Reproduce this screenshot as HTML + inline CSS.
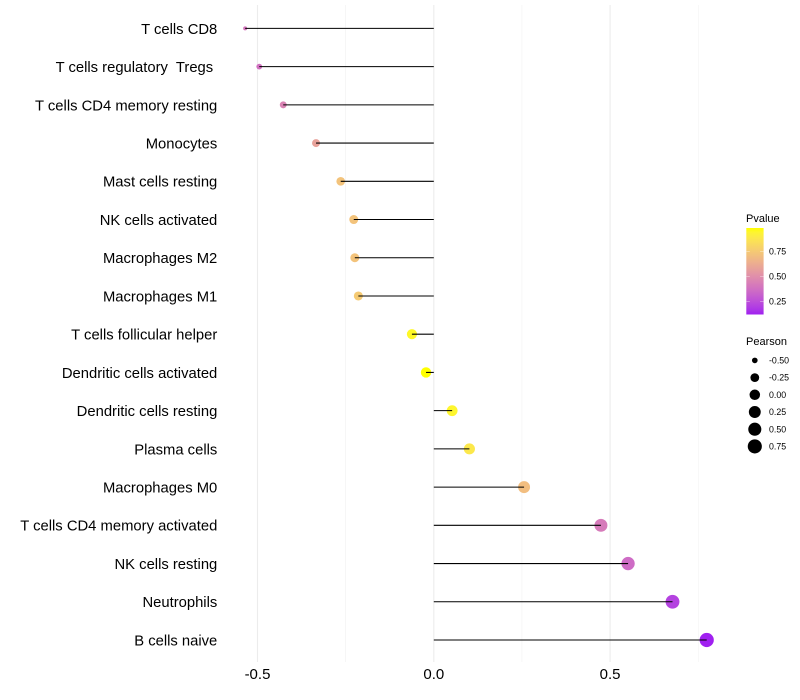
<!DOCTYPE html>
<html>
<head>
<meta charset="utf-8">
<title>Immune cell correlation lollipop chart</title>
<style>
html,body{margin:0;padding:0;background:#fff;}
svg{display:block;font-family:"Liberation Sans",Arial,sans-serif;}
</style>
</head>
<body>
<svg id="chart" width="800" height="700" viewBox="0 0 800 700" xmlns="http://www.w3.org/2000/svg"></svg>
<script>
const categories = ["T cells CD8","T cells regulatory  Tregs ","T cells CD4 memory resting","Monocytes","Mast cells resting","NK cells activated","Macrophages M2","Macrophages M1","T cells follicular helper","Dendritic cells activated","Dendritic cells resting","Plasma cells","Macrophages M0","T cells CD4 memory activated","NK cells resting","Neutrophils","B cells naive"];
const pearsonValues = [-0.535,-0.495,-0.427,-0.334,-0.264,-0.227,-0.224,-0.214,-0.062,-0.022,0.052,0.101,0.256,0.474,0.551,0.677,0.774];
const pvalueValues = [0.40,0.38,0.45,0.58,0.72,0.72,0.72,0.75,0.95,0.98,0.94,0.88,0.70,0.42,0.36,0.21,0.12];
const xMajorTicks = [-0.5,0,0.5];
const xTickLabels = ["-0.5","0.0","0.5"];
const xMinorTicks = [-0.25,0.25,0.75];
const pvalueLegendTicks = [0.25,0.5,0.75];
const pvalueLegendLabels = ["0.25","0.50","0.75"];
const pearsonLegendTicks = [-0.5,-0.25,0,0.25,0.5,0.75];
const pearsonLegendLabels = ["-0.50","-0.25","0.00","0.25","0.50","0.75"];

const svg = document.getElementById('chart');
const NS = 'http://www.w3.org/2000/svg';
function make(tag, attrs, parent, text) {
  const el = document.createElementNS(NS, tag);
  for (const k in attrs) el.setAttribute(k, attrs[k]);
  if (text !== undefined) {
    el.textContent = text;
    el.setAttribute('xml:space', 'preserve');
    el.style.whiteSpace = 'pre';
  }
  (parent || svg).appendChild(el);
  return el;
}

/* axis functions */
const xScale = v => 433.8 + v * 352.6;
const yScale = i => 28.4 + i * 38.225;
const pMin = 0.12, pMax = 0.98;
const pearsonMin = -0.535, pearsonMax = 0.774;
const sizeScale = v => {
  const t = Math.max(0, Math.min(1, (v - pearsonMin) / (pearsonMax - pearsonMin)));
  return 2 + 5.1 * Math.sqrt(t);
};
const legendY = v => 276.3 - (v - 0.5) * 100;

/* purple to yellow gradient, interpolated in Lab like the source chart */
const labLow = [45.36, 78.75, -77.4];
const labHigh = [97.14, -21.55, 94.48];
function labToHex(L, a, b) {
  const fy = (L + 16) / 116, fx = fy + a / 500, fz = fy - b / 200;
  const f = t => t > 0.2069 ? t * t * t : (t - 16 / 116) / 7.787;
  const X = 0.95047 * f(fx), Y = f(fy), Z = 1.08883 * f(fz);
  const r = 3.2406 * X - 1.5372 * Y - 0.4986 * Z;
  const g = -0.9689 * X + 1.8758 * Y + 0.0415 * Z;
  const bl = 0.0557 * X - 0.2040 * Y + 1.0570 * Z;
  const gam = c => {
    c = Math.max(0, Math.min(1, c));
    c = c <= 0.0031308 ? 12.92 * c : 1.055 * Math.pow(c, 1 / 2.4) - 0.055;
    return Math.round(c * 255).toString(16).padStart(2, '0');
  };
  return '#' + gam(r) + gam(g) + gam(bl);
}
function colorScale(p) {
  const t = Math.max(0, Math.min(1, (p - pMin) / (pMax - pMin)));
  return labToHex(
    labLow[0] + (labHigh[0] - labLow[0]) * t,
    labLow[1] + (labHigh[1] - labLow[1]) * t,
    labLow[2] + (labHigh[2] - labLow[2]) * t
  );
}

/* grid */
const grid = make('g', {}, svg);


xMinorTicks.forEach(v => {
  const l = make('line', {x1: xScale(v), x2: xScale(v), y1: 5, y2: 662, stroke: '#f0f0f0', 'stroke-width': 0.55}, grid);
  
  
});
xMajorTicks.forEach(v => {
  const l = make('line', {x1: xScale(v), x2: xScale(v), y1: 5, y2: 662, stroke: '#ececec', 'stroke-width': 1.07}, grid);
  
  
});

/* points, then segments on top */
const points = make('g', {}, svg);


const segments = make('g', {}, svg);


categories.forEach((cat, i) => {
  const c = make('circle', {cx: xScale(pearsonValues[i]), cy: yScale(i), r: sizeScale(pearsonValues[i]), fill: colorScale(pvalueValues[i])}, points);
  
  
  const s = make('line', {x1: xScale(0), x2: xScale(pearsonValues[i]), y1: yScale(i), y2: yScale(i), stroke: '#000', 'stroke-width': 1.07}, segments);
  
  
});

/* y axis labels */
const yLabels = make('g', {'font-size': 14.8, fill: '#000', 'text-anchor': 'end'}, svg);


categories.forEach((cat, i) => {
  const t = make('text', {x: 217.3, y: yScale(i) + 5.4}, yLabels, cat);
  
  
});

/* x axis labels */
const xLabels = make('g', {'font-size': 15, fill: '#000', 'text-anchor': 'middle'}, svg);


xMajorTicks.forEach((v, i) => {
  const t = make('text', {x: xScale(v), y: 679}, xLabels, xTickLabels[i]);
  
  
});

/* Pvalue legend */
const pLegend = make('g', {}, svg);


const pTitle = make('text', {x: 746, y: 222, 'font-size': 11, fill: '#000'}, pLegend, 'Pvalue');


const defs = make('defs', {}, svg);
const grad = make('linearGradient', {id: 'pvalue-gradient', x1: 0, x2: 0, y1: 1, y2: 0}, defs);
for (let k = 0; k <= 20; k++) {
  make('stop', {offset: k / 20, 'stop-color': colorScale(pMin + (pMax - pMin) * k / 20)}, grad);
}
const bar = make('rect', {x: 746.3, y: 228, width: 17.3, height: 86.5, fill: 'url(#pvalue-gradient)'}, pLegend);


pvalueLegendTicks.forEach((v, i) => {
  const y = legendY(v);
  const a = make('line', {x1: 746.3, x2: 749.8, y1: y, y2: y, stroke: '#fff', 'stroke-opacity': 0.6, 'stroke-width': 0.6}, pLegend);
  
  
  const b = make('line', {x1: 760.1, x2: 763.6, y1: y, y2: y, stroke: '#fff', 'stroke-opacity': 0.6, 'stroke-width': 0.6}, pLegend);
  
  
  const t = make('text', {x: 769, y: y + 3.1, 'font-size': 8.8, fill: '#000'}, pLegend, pvalueLegendLabels[i]);
  
  
});

/* Pearson legend */
const sLegend = make('g', {}, svg);


const sTitle = make('text', {x: 746, y: 345, 'font-size': 11, fill: '#000'}, sLegend, 'Pearson');


pearsonLegendTicks.forEach((v, i) => {
  const y = 360.4 + i * 17.2;
  const c = make('circle', {cx: 754.8, cy: y, r: sizeScale(v), fill: '#000'}, sLegend);
  
  
  const t = make('text', {x: 769, y: y + 3.1, 'font-size': 8.8, fill: '#000'}, sLegend, pearsonLegendLabels[i]);
  
  
});
</script>
</body>
</html>
